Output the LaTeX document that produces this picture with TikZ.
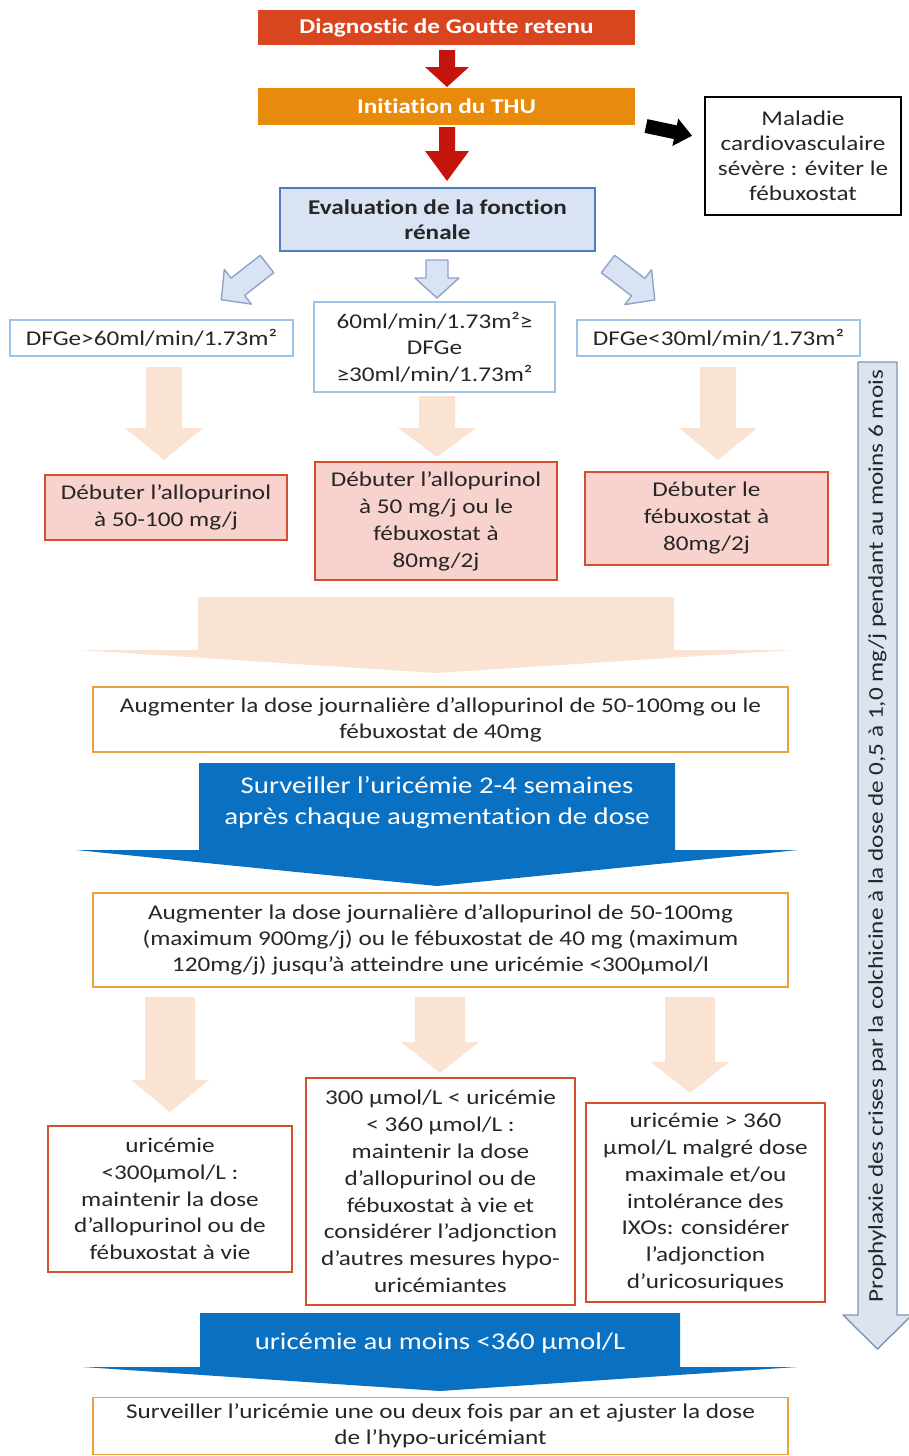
\documentclass[tikz,border=0pt]{standalone}
\usepackage{fontspec}
\setmainfont{Carlito}[FakeStretch=1.2, Ligatures=NoCommon]
\definecolor{cRed}{HTML}{D9451F}
\definecolor{cDarkRed}{HTML}{C4140C}
\definecolor{cOrange}{HTML}{E88A0C}
\definecolor{cEvalFill}{HTML}{DAE3F3}
\definecolor{cEvalDraw}{HTML}{4E7CC0}
\definecolor{cDfg}{HTML}{9DC3E6}
\definecolor{cHollowFill}{HTML}{DAE3F3}
\definecolor{cHollowDraw}{HTML}{8EA4C8}
\definecolor{cPeach}{HTML}{FBE3D3}
\definecolor{cPinkFill}{HTML}{F8D2CC}
\definecolor{cPinkDraw}{HTML}{D24F2F}
\definecolor{cAugDraw}{HTML}{E9A23B}
\definecolor{cBlue}{HTML}{0A70C2}
\definecolor{cTxt}{HTML}{262626}
\definecolor{cVert}{HTML}{DCE4F0}
\definecolor{cVertDraw}{HTML}{8095B5}
% block arrow pointing down: style, cx, top, wing y, tip y, shaft half, head half
\newcommand{\blockdown}[7]{\path[#1] ({#2-#6},#3) -- ({#2+#6},#3) -- ({#2+#6},#4) -- ({#2+#7},#4) -- (#2,#5) -- ({#2-#7},#4) -- ({#2-#6},#4) -- cycle;}
% block arrow in a direction: style, start, angle, length, head length, shaft half, head half
\newcommand{\blockdir}[7]{\begin{scope}[shift={#2},rotate=#3]\path[#1] (0,-#6) -- ({#4-#5},-#6) -- ({#4-#5},-#7) -- (#4,0) -- ({#4-#5},#7) -- ({#4-#5},#6) -- (0,#6) -- cycle;\end{scope}}
\tikzset{
  every node/.style={font=\fontsize{21}{27}\selectfont, text=cTxt, inner sep=0pt, align=center},
  titlebox/.style={rectangle, text=white, font=\fontsize{21}{25}\selectfont\bfseries},
  evalbox/.style={rectangle, fill=cEvalFill, draw=cEvalDraw, line width=1.6pt, font=\fontsize{21}{25}\selectfont\bfseries},
  dfgbox/.style={rectangle, fill=white, draw=cDfg, line width=1.6pt, font=\fontsize{21}{26.5}\selectfont},
  pinkbox/.style={rectangle, fill=cPinkFill, draw=cPinkDraw, line width=1.6pt},
  augbox/.style={rectangle, fill=white, draw=cAugDraw, line width=1.6pt, font=\fontsize{21}{26}\selectfont},
  redbox/.style={rectangle, fill=white, draw=cPinkDraw, line width=1.6pt, font=\fontsize{21}{26.8}\selectfont},
  bluetext/.style={text=white, font=\fontsize{24}{31}\selectfont},
  redarrow/.style={fill=cDarkRed},
  blackarrow/.style={fill=black},
  hollowarrow/.style={fill=cHollowFill, draw=cHollowDraw, line width=1.4pt, line join=round},
  peacharrow/.style={fill=cPeach},
  bluearrow/.style={fill=cBlue},
  vertarrow/.style={fill=cVert, draw=cVertDraw, line width=1.4pt, line join=round}
}
\begin{document}
\begin{tikzpicture}[x=1pt,y=-1pt]
\useasboundingbox[fill=white] (0,0) rectangle (909,1456);

% ---- arrows (drawn first) ----
\blockdown{redarrow}{447}{50}{67}{87}{8}{22}
\blockdown{redarrow}{447}{127}{151}{181}{8}{22}
\blockdir{blackarrow}{(646,126)}{-12}{47}{17}{7}{14}
\blockdown{hollowarrow}{437}{260}{278}{298}{11}{22}
\blockdir{hollowarrow}{(267,264)}{218}{58}{21}{11}{22}
\blockdir{hollowarrow}{(608,264)}{-37.5}{59}{21}{11}{22}
\blockdown{peacharrow}{164}{367}{428}{460}{18}{39}
\blockdown{peacharrow}{437}{396}{428}{457}{18}{39}
\blockdown{peacharrow}{718}{367}{428}{460}{18}{39}
\blockdown{peacharrow}{436}{597}{650}{673}{238}{357}
\blockdown{bluearrow}{437}{763}{850}{886}{238}{361}
\blockdown{peacharrow}{170}{997}{1080}{1112}{25}{39}
\blockdown{peacharrow}{440}{997}{1042}{1073}{25}{39}
\blockdown{peacharrow}{690}{997}{1062}{1093}{25}{39}
\blockdown{bluearrow}{440}{1313}{1367}{1391}{240}{357}
\blockdown{vertarrow}{877.5}{362}{1315}{1349}{19.5}{34.5}

% ---- nodes ----
\node[titlebox, fill=cRed, minimum width=377, minimum height=35] (diag) at (446.5,27.5) {Diagnostic de Goutte retenu};
\node[titlebox, fill=cOrange, minimum width=377, minimum height=37] (thu) at (446.5,106.5) {Initiation du THU};
\node[rectangle, fill=white, draw=black, line width=2pt, minimum width=196, minimum height=118, font=\fontsize{21}{25}\selectfont] (mal) at (803,156) {Maladie\\cardiovasculaire\\sévère : éviter le\\fébuxostat};
\node[evalbox, minimum width=315, minimum height=63] (eval) at (437.5,219.5) {Evaluation de la fonction\\rénale};

\node[dfgbox, minimum width=283, minimum height=36] (d1) at (151.5,338) {DFGe>60ml/min/1.73m²};
\node[dfgbox, minimum width=241, minimum height=90] (d2) at (434.5,347) {60ml/min/1.73m²≥\\DFGe\\≥30ml/min/1.73m²};
\node[dfgbox, minimum width=283, minimum height=36] (d3) at (718.5,338) {DFGe<30ml/min/1.73m²};

\node[pinkbox, minimum width=242, minimum height=65] (p1) at (166,507.5) {Débuter l’allopurinol\\à 50-100 mg/j};
\node[pinkbox, minimum width=242, minimum height=118] (p2) at (436,521) {Débuter l’allopurinol\\à 50 mg/j ou le\\fébuxostat à\\80mg/2j};
\node[pinkbox, minimum width=243, minimum height=93] (p3) at (706.5,518.5) {Débuter le\\fébuxostat à\\80mg/2j};

\node[augbox, minimum width=695, minimum height=65] (aug1) at (440.5,719.5) {Augmenter la dose journalière d’allopurinol de 50-100mg ou le\\fébuxostat de 40mg};
\node[bluetext] (surv) at (437,803) {Surveiller l’uricémie 2-4 semaines\\après chaque augmentation de dose};
\node[augbox, minimum width=695, minimum height=94] (aug2) at (440.5,940) {Augmenter la dose journalière d’allopurinol de 50-100mg\\(maximum 900mg/j) ou le fébuxostat de 40 mg (maximum\\120mg/j) jusqu’à atteindre une uricémie <300µmol/l};

\node[redbox, minimum width=244, minimum height=146] (u1) at (170,1199) {uricémie\\<300µmol/L :\\maintenir la dose\\d’allopurinol ou de\\fébuxostat à vie};
\node[redbox, minimum width=269, minimum height=227] (u2) at (440.5,1191.5) {300 µmol/L < uricémie\\< 360 µmol/L :\\maintenir la dose\\d’allopurinol ou de\\fébuxostat à vie et\\considérer l’adjonction\\d’autres mesures hypo-\\uricémiantes};
\node[redbox, minimum width=239, minimum height=199] (u3) at (705.5,1202.5) {uricémie > 360\\µmol/L malgré dose\\maximale et/ou\\intolérance des\\IXOs: considérer\\l’adjonction\\d’uricosuriques};

\node[bluetext] (u360) at (440,1343) {uricémie au moins <360 µmol/L};
\node[augbox, minimum width=695, minimum height=57] (final) at (440.5,1426) {Surveiller l’uricémie une ou deux fois par an et ajuster la dose\\de l’hypo-uricémiant};

\node[rotate=90, font=\fontsize{21}{24}\selectfont] (proph) at (877.5,836) {Prophylaxie des crises par la colchicine à la dose de 0,5 à 1,0 mg/j pendant au moins 6 mois};
\end{tikzpicture}
\end{document}
